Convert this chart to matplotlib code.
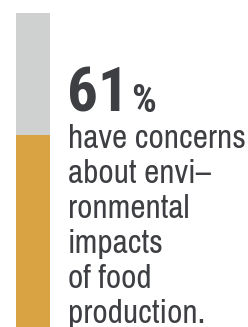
import matplotlib.pyplot as plt

share = [61]
rest = [100 - share[0]]
big_number = "61"
lines = ["have concerns", "about envi\u2013", "ronmental", "impacts", "of food", "production."]

W, H = 248, 327
fig = plt.figure(dpi=100, figsize=(W / 100, H / 100), facecolor="white")
r = fig.canvas.get_renderer()

fam = ["Archivo Narrow", "DejaVu Sans"]
fam_bold = ["Roboto Condensed", "DejaVu Sans"]
txt_col = "#3d3f42"

# vertical bar
ax = fig.add_axes([16 / W, 0, 34 / W, 314 / H])
ax.bar([0], share, width=1, color="#d9a243")
ax.bar([0], rest, bottom=share, width=1, color="#cfd1d0")
ax.set_xlim(-0.5, 0.5)
ax.set_ylim(0, 100)
ax.axis("off")

def fy(y):
    return 1 - y / H

num = fig.text(67 / W, fy(112), big_number, family=fam_bold, fontweight="bold", fontsize=44,
               color=txt_col, va="baseline", ha="left")
x_pct = num.get_window_extent(r).x1 + 2
fig.text(x_pct / W, fy(112), "%", family=fam_bold, fontweight="bold", fontsize=28,
         color=txt_col, va="baseline", ha="left")

# size the body text so the first line spans about the same width as the original
probe = fig.text(0, 0, lines[0], family=fam, fontsize=24)
body_size = 24 * 178 / probe.get_window_extent(r).width
probe.remove()

for i, s in enumerate(lines):
    fig.text(68 / W, fy(148 + 35 * i), s, family=fam, fontsize=body_size,
             color=txt_col, va="baseline", ha="left")

fig.savefig("out.png", dpi=100)
